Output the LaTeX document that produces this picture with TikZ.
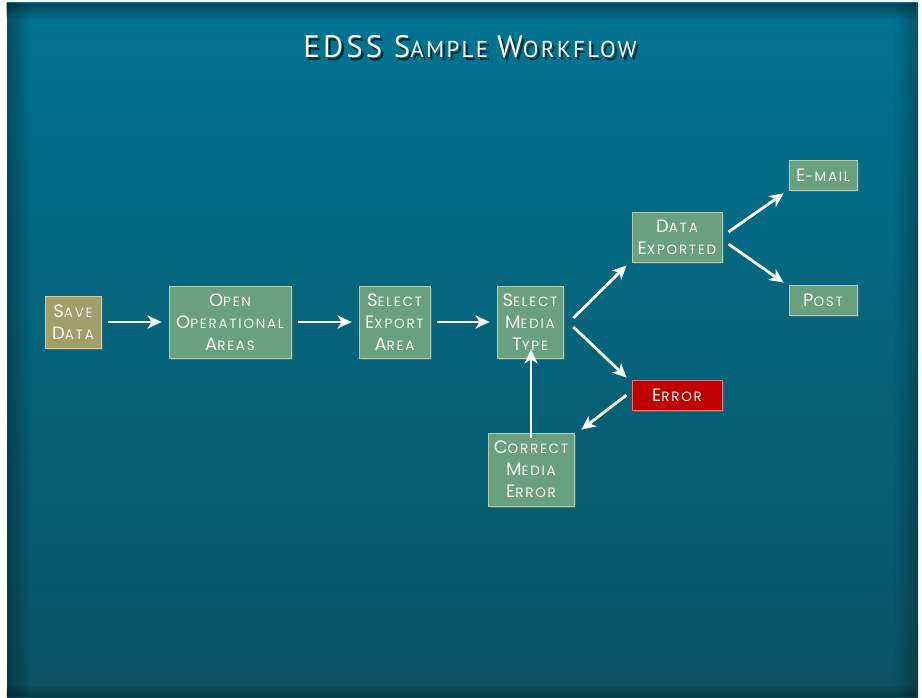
\documentclass[tikz,border=0pt]{standalone}
\usepackage{fontspec}
\setmainfont{Poppins}[LetterSpace=13]
\newfontfamily\titlefont{PT Sans}[LetterSpace=10]
\usetikzlibrary{arrows.meta,fadings,shadows}
\definecolor{bgtop}{RGB}{0,116,146}
\definecolor{bgmid}{RGB}{4,98,120}
\definecolor{bgbot}{RGB}{10,82,98}
\definecolor{boxgreen}{RGB}{106,160,126}
\definecolor{boxgreenedge}{RGB}{170,205,180}
\definecolor{boxolive}{RGB}{162,159,107}
\definecolor{boxoliveedge}{RGB}{205,202,160}
\definecolor{boxred}{RGB}{192,0,0}
\definecolor{boxrededge}{RGB}{230,120,120}
\definecolor{txt}{RGB}{245,245,238}
\newcommand{\fsc}[2]{{\fontsize{18}{22}\selectfont #1}{\fontsize{13.5}{22}\selectfont #2}}
\newcommand{\tsc}[2]{{\fontsize{31}{36}\selectfont #1}{\fontsize{23}{36}\selectfont #2}}
\tikzset{
  x=1pt, y=-1pt,
  wbox/.style={rectangle, inner sep=0pt, align=center, text=txt,
    font=\fontsize{18}{22}\selectfont, line width=0.8pt,
    drop shadow={shadow xshift=2pt, shadow yshift=-2pt, opacity=0.45}},
  gbox/.style={wbox, fill=boxgreen, draw=boxgreenedge},
  obox/.style={wbox, fill=boxolive, draw=boxoliveedge},
  rbox/.style={wbox, fill=boxred, draw=boxrededge},
  arr/.style={draw=white, line width=2.8pt,
    -{Stealth[length=14pt, width=13pt, inset=4pt]}},
}
\begin{document}
\begin{tikzpicture}
\useasboundingbox (0,0) rectangle (922,698);
\fill[white] (0,0) rectangle (922,698);
% background
\shade[top color=bgtop, middle color=bgmid, bottom color=bgbot] (7,3) rectangle (918,697);
\fill[black, opacity=0.3, path fading=east] (7,3) rectangle (32,697);
\fill[black, opacity=0.25, path fading=west] (893,3) rectangle (918,697);
\fill[black, opacity=0.4, path fading=south] (7,3) rectangle (918,20);
\fill[black, opacity=0.3, path fading=north] (7,685) rectangle (918,697);
% title
\node[text=black, opacity=0.6, font=\titlefont] (titleshadow) at (472.5,49.5) {\tsc{EDSS S}{AMPLE}\hspace{9pt}\tsc{W}{ORKFLOW}};
\node[text=white, font=\titlefont] (title) at (470,47) {\tsc{EDSS S}{AMPLE}\hspace{9pt}\tsc{W}{ORKFLOW}};
% nodes
\node[obox, minimum width=56pt, minimum height=52pt] (save) at (73,322) {\fsc{S}{AVE}\\\fsc{D}{ATA}};
\node[gbox, minimum width=122pt, minimum height=72pt] (open) at (230,322) {\fsc{O}{PEN}\\\fsc{O}{PERATIONAL}\\\fsc{A}{REAS}};
\node[gbox, minimum width=71pt, minimum height=72pt] (export) at (394.5,322) {\fsc{S}{ELECT}\\\fsc{E}{XPORT}\\\fsc{A}{REA}};
\node[gbox, minimum width=66pt, minimum height=72pt] (media) at (530,322) {\fsc{S}{ELECT}\\\fsc{M}{EDIA}\\\fsc{T}{YPE}};
\node[gbox, minimum width=90pt, minimum height=50pt] (dexp) at (677,237) {\fsc{D}{ATA}\\\fsc{E}{XPORTED}};
\node[gbox, minimum width=68pt, minimum height=30pt] (email) at (823,175) {\fsc{E}{-MAIL}};
\node[gbox, minimum width=68pt, minimum height=30pt] (post) at (823,300) {\fsc{P}{OST}};
\node[rbox, minimum width=90pt, minimum height=30pt] (error) at (677,395) {\fsc{E}{RROR}};
\node[gbox, minimum width=86pt, minimum height=73pt] (correct) at (531,469.5) {\fsc{C}{ORRECT}\\\fsc{M}{EDIA}\\\fsc{E}{RROR}};
% connectors
\draw[arr] ([xshift=7]save.east) -- ([xshift=-7]open.west);
\draw[arr] ([xshift=7]open.east) -- ([xshift=-7]export.west);
\draw[arr] ([xshift=7]export.east) -- ([xshift=-7]media.west);
\draw[arr] ([shift={(10,-4)}]media.east) -- ([shift={(-5,3)}]dexp.south west);
\draw[arr] ([shift={(10,5)}]media.east) -- ([shift={(-5,-2)}]error.north west);
\draw[arr] ([shift={(6,-5)}]dexp.east) -- ([shift={(-5,3)}]email.south west);
\draw[arr] ([shift={(6,7)}]dexp.east) -- ([shift={(-5,-2)}]post.north west);
\draw[arr] ([xshift=-5]error.west) -- ([shift={(7,-3)}]correct.north east);
\draw[arr] ([yshift=-5]correct.north) -- ([yshift=9]correct.north |- media.south);
\end{tikzpicture}
\end{document}
